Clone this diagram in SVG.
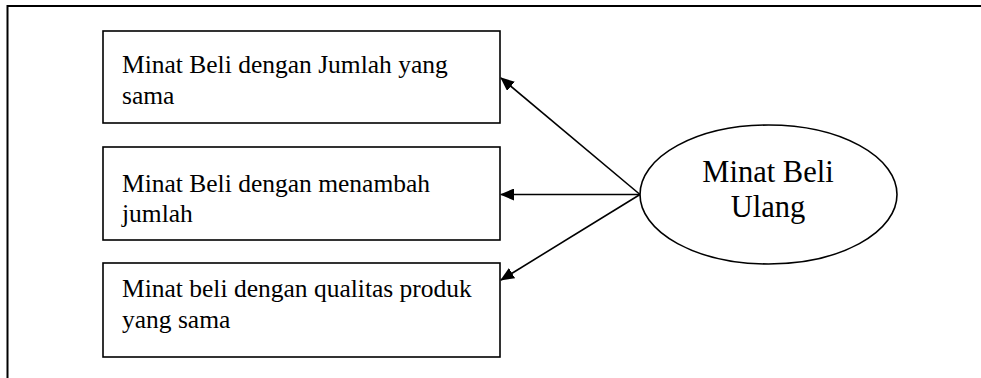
<svg xmlns="http://www.w3.org/2000/svg" width="981" height="378" viewBox="0 0 981 378">
  <defs>
    <style>
      .frame { fill: none; stroke: #000; stroke-width: 2; }
      .box { fill: #fff; stroke: #000; stroke-width: 1.6; }
      .oval { fill: #fff; stroke: #000; stroke-width: 1.6; }
      .lbl { font-family: "Liberation Serif", "Times New Roman", serif; font-size: 25.5px; fill: #000; }
      .big { font-family: "Liberation Serif", "Times New Roman", serif; font-size: 30.5px; fill: #000; text-anchor: middle; }
      .edge { fill: none; stroke: #000; stroke-width: 1.6; marker-end: url(#head); }
    </style>
    <marker id="head" viewBox="0 0 14 12" refX="13" refY="6" markerWidth="14" markerHeight="12" markerUnits="userSpaceOnUse" orient="auto">
      <path d="M0,0 L14,6 L0,12 Z" fill="#000"/>
    </marker>
  </defs>

  <!-- page frame: top and left rules -->
  <path class="frame" d="M7.5,378 V6 H981"/>

  <g id="indikator-1">
    <rect class="box" x="103" y="31" width="397" height="92"/>
    <text class="lbl" x="122" y="73">Minat Beli dengan Jumlah yang</text>
    <text class="lbl" x="122" y="104">sama</text>
  </g>

  <g id="indikator-2">
    <rect class="box" x="103" y="147" width="397" height="93"/>
    <text class="lbl" x="122" y="192">Minat Beli dengan menambah</text>
    <text class="lbl" x="122" y="222">jumlah</text>
  </g>

  <g id="indikator-3">
    <rect class="box" x="103" y="263" width="397" height="94"/>
    <text class="lbl" x="122" y="297">Minat beli dengan qualitas produk</text>
    <text class="lbl" x="122" y="328">yang sama</text>
  </g>

  <g id="minat-beli-ulang">
    <ellipse class="oval" cx="768.5" cy="194.5" rx="128.5" ry="69.5"/>
    <text class="big" x="768" y="182">Minat Beli</text>
    <text class="big" x="768" y="217">Ulang</text>
  </g>

  <g id="connectors">
    <line class="edge" x1="640" y1="194.5" x2="501" y2="78"/>
    <line class="edge" x1="640" y1="194.5" x2="501" y2="194.5"/>
    <line class="edge" x1="640" y1="194.5" x2="501" y2="280"/>
  </g>
</svg>
